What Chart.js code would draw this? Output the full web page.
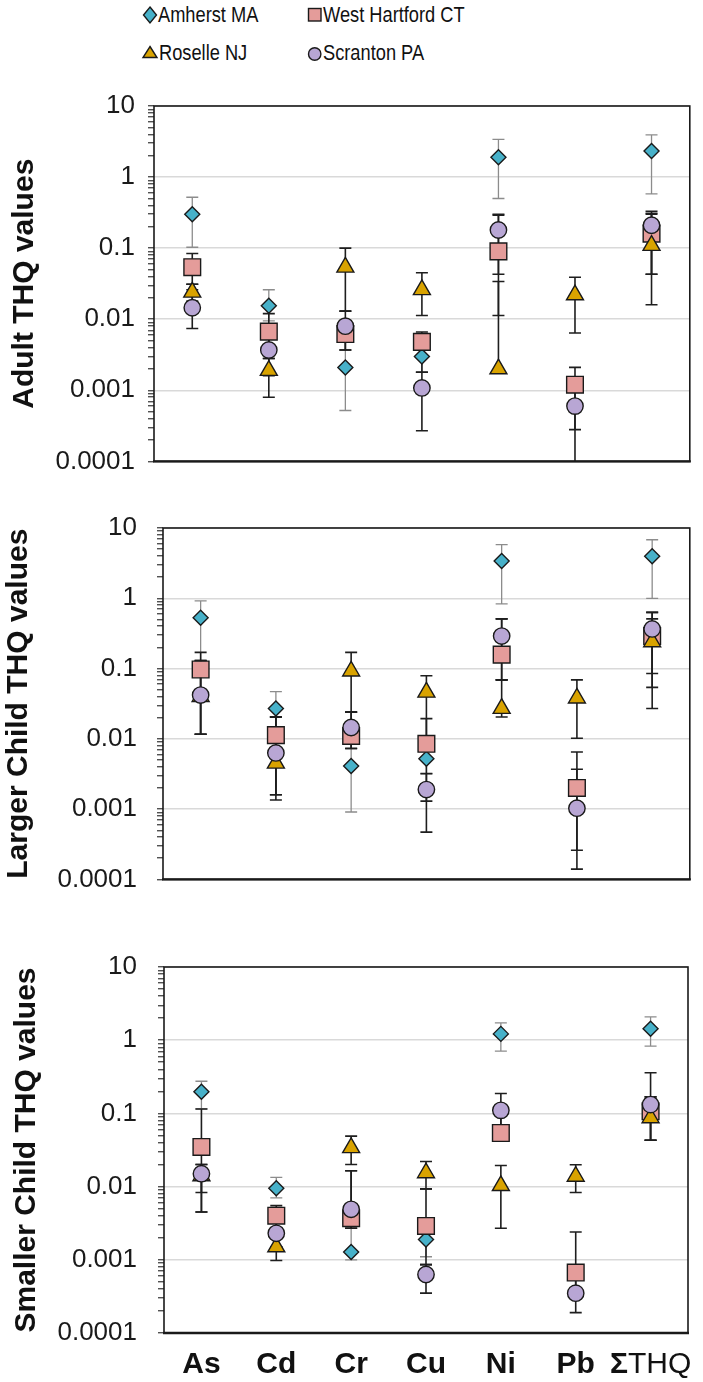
<!DOCTYPE html>
<html>
<head>
<meta charset="utf-8">
<script src="https://cdn.jsdelivr.net/npm/chart.js@4.4.1/dist/chart.umd.min.js"></script>
<style>
  html, body { margin: 0; padding: 0; background: #fff; }
  #page { position: relative; width: 703px; height: 1382px; overflow: hidden; }
  #page canvas, #page svg { position: absolute; left: 0; }
</style>
</head>
<body>
<div id="page">
  <svg id="legend" width="703" height="70" style="top:0"></svg>
  <canvas id="adult" width="703" height="420" style="top:70px"></canvas>
  <canvas id="larger" width="703" height="425" style="top:490px"></canvas>
  <canvas id="smaller" width="703" height="467" style="top:915px"></canvas>
</div>
<script>
// ---- data ----
const categories = ["As", "Cd", "Cr", "Cu", "Ni", "Pb", "ΣTHQ"];
const sites = ["Amherst MA", "West Hartford CT", "Roselle NJ", "Scranton PA"];
const yTickValues = [0.0001, 0.001, 0.01, 0.1, 1, 10];
const yTickLabels = ["0.0001", "0.001", "0.01", "0.1", "1", "10"];

// one row per site (Amherst, West Hartford, Roselle, Scranton), one column per element
const adultValues = [
  [0.30, 0.0155, 0.0021, 0.0030, 1.9, null, 2.33],
  [0.054, 0.0067, 0.0062, 0.0048, 0.09, 0.0012, 0.16],
  [0.024, 0.0019, 0.054, 0.026, 0.002, 0.022, 0.109],
  [0.0145, 0.0037, 0.008, 0.00108, 0.18, 0.0006, 0.21]
];
const adultLow = [
  [0.103, 0.0095, 0.00052, 0.0018, 0.5, null, 0.58],
  [0.031, 0.0028, 0.0037, 0.0018, 0.0113, 0.00005, 0.016],
  [0.018, 0.0008, 0.013, 0.0113, 0.0019, 0.0064, 0.043],
  [0.0074, 0.0016, 0.0037, 0.00027, 0.043, 0.00028, 0.043]
];
const adultHigh = [
  [0.52, 0.026, 0.0055, 0.005, 3.4, null, 3.93],
  [0.084, 0.012, 0.0095, 0.0066, 0.30, 0.0021, 0.31],
  [0.031, 0.0028, 0.1, 0.045, 0.034, 0.039, 0.30],
  [0.026, 0.0062, 0.013, 0.0018, 0.29, 0.0012, 0.33]
];

const largerValues = [
  [0.53, 0.027, 0.0041, 0.0052, 3.4, null, 3.97],
  [0.097, 0.0113, 0.011, 0.0085, 0.158, 0.002, 0.29],
  [0.04, 0.0045, 0.092, 0.046, 0.027, 0.038, 0.24],
  [0.042, 0.0063, 0.0145, 0.0019, 0.29, 0.00103, 0.366]
];
const largerLow = [
  [0.13, 0.0205, 0.00091, 0.0032, 0.83, null, 1.0],
  [0.0116, 0.00135, 0.0073, 0.0013, 0.069, 0.00014, 0.054],
  [0.0116, 0.0016, 0.024, 0.0107, 0.0205, 0.0102, 0.027],
  [0.0116, 0.0016, 0.0073, 0.00047, 0.069, 0.00026, 0.085]
];
const largerHigh = [
  [0.92, 0.047, 0.0073, 0.0085, 5.8, null, 6.8],
  [0.17, 0.0205, 0.024, 0.0194, 0.51, 0.0065, 0.63],
  [0.13, 0.0205, 0.17, 0.079, 0.069, 0.069, 0.51],
  [0.13, 0.0205, 0.024, 0.0032, 0.51, 0.0037, 0.63]
];

const smallerValues = [
  [0.197, 0.0095, 0.00128, 0.0019, 1.22, null, 1.43],
  [0.0348, 0.004, 0.0037, 0.0029, 0.054, 0.00067, 0.107],
  [0.014, 0.0015, 0.034, 0.0154, 0.0103, 0.0138, 0.087],
  [0.015, 0.0023, 0.0049, 0.00063, 0.11, 0.00035, 0.132]
];
const smallerLow = [
  [0.115, 0.007, 0.001, 0.0011, 0.71, null, 0.83],
  [0.0083, 0.0015, 0.0027, 0.00086, 0.054, 0.0003, 0.043],
  [0.0045, 0.00098, 0.02, 0.0093, 0.0027, 0.0083, 0.043],
  [0.0045, 0.0015, 0.0027, 0.00035, 0.054, 0.00019, 0.043]
];
const smallerHigh = [
  [0.275, 0.0134, 0.0027, 0.0029, 1.73, null, 2.08],
  [0.115, 0.0055, 0.0165, 0.0093, 0.11, 0.0024, 0.36],
  [0.02, 0.0025, 0.049, 0.022, 0.0194, 0.0199, 0.168],
  [0.02, 0.0035, 0.0165, 0.00086, 0.187, 0.0006, 0.168]
];

// ---- styles ----
const FONT = "'Liberation Sans', Arial, sans-serif";
const siteColors = ["#47b1c9", "#e49c9a", "#d9a300", "#b8a6d4"];
const siteShapes = ["rectRot", "rect", "triangle", "circle"];
const siteSizes = [7.5, 11.8, 9.8, 8.2];
const barColors = ["#8c8c8c", "#1e1e1e", "#1e1e1e", "#1e1e1e"];
const barWidths = [1.3, 1.6, 1.6, 1.6];
const drawOrder = [3, 2, 1, 0]; // Scranton on top

Chart.defaults.font.family = FONT;

// all log tick positions (1..9 per decade), labels only on decades
const yTickPositions = [];
yTickValues.forEach((d, k) => {
  yTickPositions.push(d);
  if (k < yTickValues.length - 1) {
    for (let m = 2; m <= 9; m++) yTickPositions.push(Number((m * d).toPrecision(6)));
  }
});
function decadeIndex(v) {
  return yTickValues.findIndex(t => Math.abs(t - v) < t * 1e-6);
}

// legend (drawn once above the top panel)
function drawLegend() {
  const svg = document.getElementById("legend");
  const txt = (x, y, s) =>
    `<g transform="translate(${x},${y}) scale(0.83,1)"><text x="0" y="0" font-family="${FONT.replace(/'/g, "")}" font-size="22" fill="#111">${s}</text></g>`;
  const st = 'stroke="#1a1a1a" stroke-width="1.4"';
  svg.innerHTML =
    `<polygon points="150,7 156.5,15 150,23 143.5,15" fill="${siteColors[0]}" ${st}/>` + txt(158, 22, sites[0]) +
    `<rect x="308.5" y="8.5" width="12.5" height="12.5" fill="${siteColors[1]}" ${st}/>` + txt(323, 22, sites[1]) +
    `<polygon points="150,46.5 157,57.5 143,57.5" fill="${siteColors[2]}" ${st}/>` + txt(159, 59.5, sites[2]) +
    `<circle cx="314.7" cy="54" r="6.2" fill="${siteColors[3]}" ${st}/>` + txt(323, 59.5, sites[3]);
}

// error bars behind the markers
const errorBars = {
  id: "errorBars",
  beforeDatasetsDraw(chart) {
    const { ctx, chartArea, scales: { x, y } } = chart;
    ctx.save();
    ctx.beginPath();
    ctx.rect(chartArea.left, chartArea.top, chartArea.right - chartArea.left, chartArea.bottom - chartArea.top);
    ctx.clip();
    chart.data.datasets.forEach(ds => {
      ds.data.forEach((v, i) => {
        const lo = ds.errLow[i], hi = ds.errHigh[i];
        if (v == null || lo == null || hi == null) return;
        const px = x.getPixelForValue(i);
        const yLo = y.getPixelForValue(lo), yHi = y.getPixelForValue(hi);
        ctx.strokeStyle = ds.barColor;
        ctx.lineWidth = ds.barWidth;
        ctx.beginPath();
        ctx.moveTo(px, yLo); ctx.lineTo(px, yHi);
        ctx.moveTo(px - 6, yLo); ctx.lineTo(px + 6, yLo);
        ctx.moveTo(px - 6, yHi); ctx.lineTo(px + 6, yHi);
        ctx.stroke();
      });
    });
    ctx.restore();
  }
};

// plot frame + bold element labels under the last panel
const frameAndLabels = {
  id: "frameAndLabels",
  afterDraw(chart, args, opts) {
    const { ctx, chartArea: a, scales: { x } } = chart;
    ctx.save();
    ctx.strokeStyle = "#1a1a1a";
    ctx.lineWidth = 1.6;
    ctx.strokeRect(a.left, a.top, a.right - a.left, a.bottom - a.top);
    ctx.lineWidth = 2.4;
    ctx.beginPath();
    ctx.moveTo(a.left - 1, a.bottom); ctx.lineTo(a.right + 1, a.bottom);
    ctx.stroke();
    if (opts.showLabels) {
      ctx.fillStyle = "#111";
      ctx.textBaseline = "alphabetic";
      categories.forEach((c, i) => {
        const px = x.getPixelForValue(i);
        const y = a.bottom + opts.labelOffset;
        if (c.startsWith("Σ")) {
          const head = "Σ", rest = c.slice(1);
          ctx.font = `bold 30px ${FONT}`;
          const w1 = ctx.measureText(head).width;
          ctx.font = `30px ${FONT}`;
          const w2 = ctx.measureText(rest).width;
          const x0 = px - (w1 + w2) / 2;
          ctx.textAlign = "left";
          ctx.font = `bold 30px ${FONT}`;
          ctx.fillText(head, x0, y);
          ctx.font = `30px ${FONT}`;
          ctx.fillText(rest, x0 + w1, y);
        } else {
          ctx.textAlign = "center";
          ctx.font = `bold 30px ${FONT}`;
          ctx.fillText(c, px, y);
        }
      });
    }
    ctx.restore();
  }
};

function makePanel(id, title, values, low, high, o) {
  const datasets = sites.map((s, k) => ({
    label: s,
    data: values[k],
    errLow: low[k],
    errHigh: high[k],
    barColor: barColors[k],
    barWidth: barWidths[k],
    order: drawOrder[k],
    showLine: false,
    pointStyle: siteShapes[k],
    pointRadius: siteSizes[k],
    pointHoverRadius: siteSizes[k],
    pointBackgroundColor: siteColors[k],
    pointBorderColor: "#1a1a1a",
    pointBorderWidth: 1.4
  }));

  return new Chart(document.getElementById(id), {
    type: "line",
    data: { labels: categories, datasets },
    plugins: [errorBars, frameAndLabels],
    options: {
      responsive: false,
      animation: false,
      layout: { padding: { top: o.top, right: o.right, bottom: o.bottom, left: 0 } },
      plugins: {
        legend: { display: false },
        tooltip: { enabled: false },
        frameAndLabels: { showLabels: !!o.showLabels, labelOffset: 40 }
      },
      scales: {
        x: { type: "category", offset: true, display: false },
        y: {
          type: "logarithmic",
          min: 0.0001,
          max: 10,
          afterFit(s) { s.width = o.left; },
          afterBuildTicks(s) { s.ticks = yTickPositions.map(v => ({ value: v })); },
          ticks: {
            autoSkip: false,
            padding: o.tickPad,
            color: "#1a1a1a",
            font: { size: 26 },
            callback: v => { const k = decadeIndex(v); return k >= 0 ? yTickLabels[k] : ""; }
          },
          grid: {
            color: c => (c.tick && decadeIndex(c.tick.value) >= 0 ? "#d9d9d9" : "rgba(0,0,0,0)"),
            lineWidth: 1.5,
            tickColor: "#333",
            tickWidth: 1.2,
            tickLength: 6
          },
          border: { display: false },
          title: {
            display: true,
            text: title,
            color: "#111",
            font: { size: 30, weight: "bold" },
            padding: { top: o.titlePad, bottom: 0 }
          }
        }
      }
    }
  });
}

drawLegend();
makePanel("adult", "Adult THQ values", adultValues, adultLow, adultHigh,
  { top: 36, right: 5, bottom: 17, left: 154, tickPad: 13, titlePad: 6.5 });
makePanel("larger", "Larger Child THQ values", largerValues, largerLow, largerHigh,
  { top: 38, right: 10, bottom: 18, left: 163, tickPad: 20, titlePad: 0.5 });
makePanel("smaller", "Smaller Child THQ values", smallerValues, smallerLow, smallerHigh,
  { top: 52, right: 15, bottom: 49, left: 164, tickPad: 21, titlePad: 8.5, showLabels: true });
</script>
</body>
</html>
